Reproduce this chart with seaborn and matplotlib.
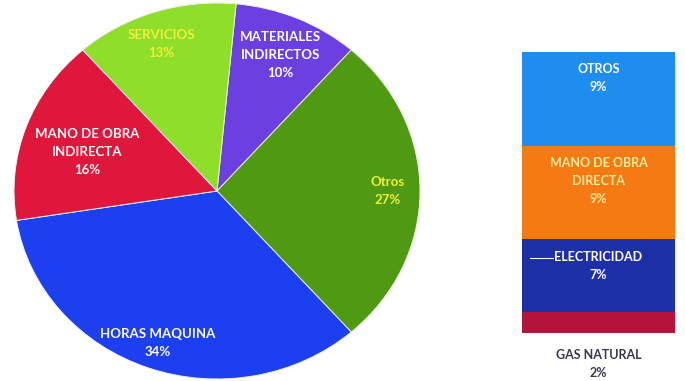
import numpy as np
import matplotlib
matplotlib.use("Agg")
import matplotlib.pyplot as plt
import seaborn as sns

# Costos indirectos de fabricación: distribución principal
pie_labels = ["MATERIALES\nINDIRECTOS", "Otros", "HORAS MAQUINA",
              "MANO DE OBRA\nINDIRECTA", "SERVICIOS"]
pie_values = [10, 27, 34, 16, 13]
pie_colors = ["#6b3fe0", "#4f9a12", "#1c3ff0", "#e0173c", "#8ede2a"]
pie_text_colors = ["white", "#f2f03a", "white", "white", "#f2f03a"]

# Desglose de "Otros"
bar_labels = ["GAS NATURAL", "ELECTRICIDAD", "MANO DE OBRA\nDIRECTA", "OTROS"]
bar_values = [2, 7, 9, 9]
bar_colors = ["#b3143c", "#1d30a6", "#f57a14", "#1f8cf0"]
bar_text_colors = ["#3d3550", "white", "#fbeea0", "white"]

sns.set_theme(style="white")
plt.rcParams["font.family"] = ["Lato", "DejaVu Sans"]

W, H = 685, 381
fig = plt.figure(figsize=(W / 100, H / 100), dpi=100)
fig.patch.set_facecolor("white")

# --- pie (slightly elliptical), "Otros" centred on the right ---
cx, cy, rx, ry = 217, 191, 203, 188
ax_pie = fig.add_axes([(cx - rx) / W, (H - cy - ry) / H, 2 * rx / W, 2 * ry / H])
start = 360 * (pie_values[0] + pie_values[1] / 2) / 100
wedges, _ = ax_pie.pie(pie_values, colors=pie_colors, startangle=start,
                       counterclock=False, radius=1,
                       wedgeprops=dict(edgecolor="#eeeeee", linewidth=0.7))
ax_pie.set_aspect("auto")
ax_pie.set_xlim(-1, 1)
ax_pie.set_ylim(-1, 1)
ax_pie.axis("off")

# label placement: radial distance and small angular nudge per wedge
label_radius = [0.79, 0.84, 0.86, 0.67, 0.83]
label_nudge = [0, 0, 0, 2.0, 1.4]
for w, lab, val, col, r, dth in zip(wedges, pie_labels, pie_values,
                                    pie_text_colors, label_radius, label_nudge):
    mid = np.deg2rad((w.theta1 + w.theta2) / 2 + dth)
    ax_pie.text(r * np.cos(mid), r * np.sin(mid), f"{lab}\n{val}%",
                ha="center", va="center", color=col, fontsize=9.5,
                fontweight="bold", linespacing=1.6)

# --- stacked bar ---
bx0, bx1, by0, by1 = 522, 675, 52, 333
ax_bar = fig.add_axes([bx0 / W, (H - by1) / H, (bx1 - bx0) / W, (by1 - by0) / H])
bottom = 0
for lab, val, col, tcol in zip(bar_labels, bar_values, bar_colors, bar_text_colors):
    sns.barplot(x=[0], y=[val], bottom=bottom, color=col, width=1,
                saturation=1, ax=ax_bar, linewidth=0)
    if lab == "GAS NATURAL":
        ax_bar.text(0, -1.5, f"{lab}\n{val}%", ha="center", va="top",
                    color=tcol, fontsize=9, fontweight="bold",
                    linespacing=1.6, clip_on=False)
    else:
        ax_bar.text(0, bottom + val - 1.1, f"{lab}\n{val}%", ha="center",
                    va="top", color=tcol, fontsize=9, fontweight="bold",
                    linespacing=1.6)
    bottom += val
# leader line beside ELECTRICIDAD
ax_bar.plot([-0.45, -0.3], [7.2, 7.2], color="white", lw=0.8)
ax_bar.set_xlim(-0.5, 0.5)
ax_bar.set_ylim(0, sum(bar_values))
ax_bar.axis("off")

fig.savefig("out.png", dpi=100, facecolor="white")
